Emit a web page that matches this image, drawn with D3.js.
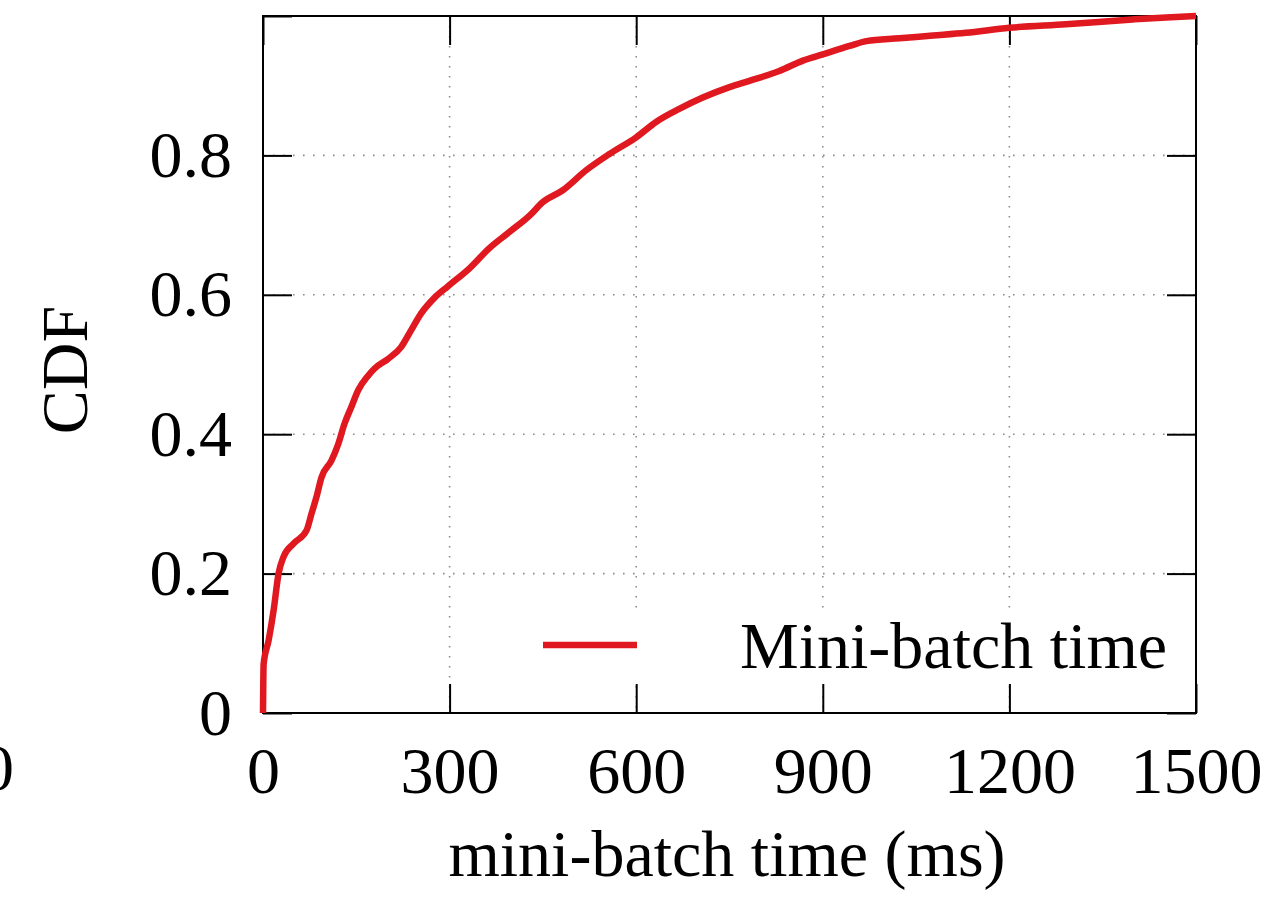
<!DOCTYPE html>
<html>
<head>
<meta charset="utf-8">
<script src="https://cdn.jsdelivr.net/npm/d3@7"></script>
<style>
  body { margin: 0; background: #fff; }
  text { font-family: "Liberation Serif", "DejaVu Serif", serif; }
</style>
</head>
<body>
<svg width="1281" height="903"></svg>
<script>
// CDF of mini-batch time
const batchTime = [0,1,9,17,25,33,49,70,78,86,94,110,121,131,142,153,169,179,201,222,238,254,276,297,332,364,396,429,450,482,520,557,600,632,670,707,750,782,830,868,900,943,970,1023,1077,1130,1200,1291,1398,1452,1500];
const cdfValue = [0,0.07,0.104,0.147,0.2,0.224,0.243,0.262,0.286,0.31,0.338,0.362,0.386,0.415,0.439,0.463,0.484,0.494,0.508,0.525,0.549,0.573,0.596,0.612,0.638,0.667,0.690,0.714,0.733,0.75,0.779,0.802,0.826,0.848,0.867,0.883,0.898,0.907,0.921,0.936,0.945,0.957,0.964,0.968,0.972,0.976,0.983,0.988,0.995,0.998,1.0];

const xTicks = [0,300,600,900,1200,1500];
const yTicks = [0,0.2,0.4,0.6,0.8,1];
const yTickLabels = ['0','0.2','0.4','0.6','0.8',''];
const seriesName = 'Mini-batch time';

const data = batchTime.map((t,i) => ({t: t, p: cdfValue[i]}));

const margin = {top: 16, left: 263, right: 85, bottom: 190};
const innerwidth = 1281 - margin.left - margin.right;
const innerheight = 903 - margin.top - margin.bottom;
const fontSize = 66;
const red = '#e0181f';

const svg = d3.select('svg');
const g = svg.append('g')
  .attr('transform', `translate(${margin.left},${margin.top})`);

const xscale = d3.scaleLinear().domain([0,1500]).range([0,innerwidth]);
const yscale = d3.scaleLinear().domain([0,1]).range([innerheight,0]);

// dotted grid
g.append('g').selectAll('line').data(xTicks.slice(1,-1)).join('line')
  .attr('x1', d => xscale(d)).attr('x2', d => xscale(d))
  .attr('y1', 0).attr('y2', innerheight)
  .attr('stroke', '#8c8c8c').attr('stroke-width', 1.6)
  .attr('stroke-dasharray', '1.6 8.4');
g.append('g').selectAll('line').data(yTicks.slice(1,-1)).join('line')
  .attr('y1', d => yscale(d)).attr('y2', d => yscale(d))
  .attr('x1', 0).attr('x2', innerwidth)
  .attr('stroke', '#8c8c8c').attr('stroke-width', 1.6)
  .attr('stroke-dasharray', '1.6 8.4');

// opaque legend box
g.append('rect')
  .attr('x', 262).attr('y', 596)
  .attr('width', innerwidth - 264).attr('height', 72)
  .attr('fill', '#fff');

const tickLen = 29;

const xAxis = d3.axisBottom(xscale).tickValues(xTicks).tickSize(-tickLen).tickPadding(33)
  .tickFormat(d3.format('d'));
const xAxisG = g.append('g').attr('transform', `translate(0,${innerheight})`).call(xAxis);

const yAxis = d3.axisLeft(yscale).tickValues(yTicks).tickSize(-tickLen).tickPadding(31)
  .tickFormat((d,i) => yTickLabels[i]);
const yAxisG = g.append('g').call(yAxis);

const topAxisG = g.append('g').call(d3.axisTop(xscale).tickValues(xTicks).tickSize(-tickLen).tickFormat(''));
const rightAxisG = g.append('g').attr('transform', `translate(${innerwidth},0)`)
  .call(d3.axisRight(yscale).tickValues(yTicks).tickSize(-tickLen).tickFormat(''));

[xAxisG, yAxisG, topAxisG, rightAxisG].forEach(a => {
  a.select('.domain').remove();
  a.selectAll('line').attr('stroke', '#000').attr('stroke-width', 2);
  a.selectAll('text').attr('font-size', fontSize).attr('fill', '#000')
    .style('font-family', '"Liberation Serif", serif');
});

// frame
g.append('rect')
  .attr('width', innerwidth).attr('height', innerheight)
  .attr('fill', 'none').attr('stroke', '#000').attr('stroke-width', 2);

// curve
const line = d3.line()
  .x(d => xscale(d.t))
  .y(d => yscale(d.p))
  .curve(d3.curveMonotoneX);
g.append('path')
  .attr('d', line(data))
  .attr('fill', 'none')
  .attr('stroke', red)
  .attr('stroke-width', 6.5)
  .attr('stroke-linejoin', 'round');

// legend
g.append('line')
  .attr('x1', 280).attr('x2', 374)
  .attr('y1', 629).attr('y2', 629)
  .attr('stroke', red).attr('stroke-width', 6.5);
g.append('text')
  .attr('x', 477).attr('y', 652)
  .attr('font-size', fontSize)
  .text(seriesName);

// axis titles
svg.append('text')
  .attr('x', 727).attr('y', 876)
  .attr('text-anchor', 'middle')
  .attr('font-size', fontSize)
  .text('mini-batch time (ms)');

svg.append('text')
  .attr('transform', 'translate(87,370) rotate(-90)')
  .attr('text-anchor', 'middle')
  .attr('font-size', fontSize)
  .text('CDF');

// clipped tick label of the neighbouring panel at the far left
svg.append('text')
  .attr('x', 14).attr('y', 790)
  .attr('text-anchor', 'end')
  .attr('font-size', fontSize)
  .text('1500');
</script>
</body>
</html>
